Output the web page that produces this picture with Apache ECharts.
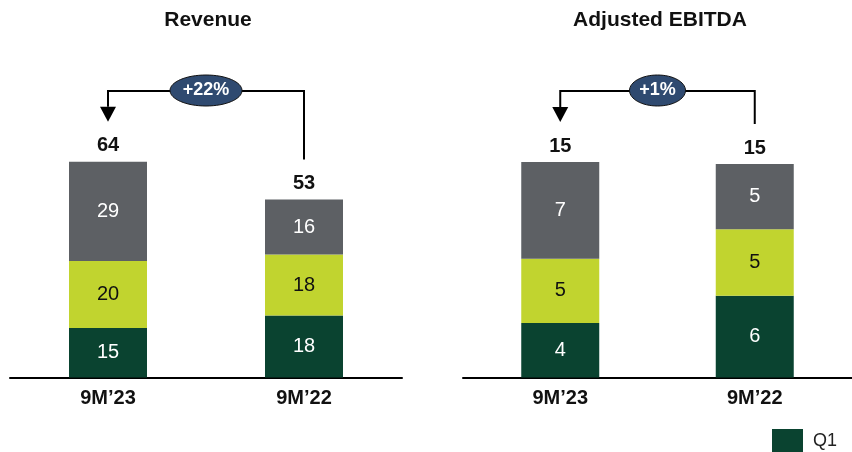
<!DOCTYPE html>
<html>
<head>
<meta charset="utf-8">
<script src="https://cdn.jsdelivr.net/npm/echarts@6/dist/echarts.min.js"></script>
<style>
  html, body { margin: 0; padding: 0; background: #fff; }
  #chart { width: 852px; height: 452px; }
</style>
</head>
<body>
<div id="chart"></div>
<script>
// categories and values (labels are rounded)
const categories = ['9M\u201923', '9M\u201922'];
const titles = ['Revenue', 'Adjusted EBITDA'];
const growthLabels = ['+22%', '+1%'];

const revQ1 = [14.7, 18.4];
const revQ2 = [19.9, 18.1];
const revQ3 = [29.4, 16.3];

const ebQ1 = [3.83, 5.75];
const ebQ2 = [4.52, 4.67];
const ebQ3 = [6.80, 4.59];

const colQ1 = '#0A4330';
const colQ2 = '#C1D42F';
const colQ3 = '#5D6064';
const FONT = '"Liberation Sans", Arial, sans-serif';

let chart = echarts.init(document.getElementById('chart'));

function sumArr(arrs) {
  return categories.map((c, i) => arrs.reduce((s, a) => s + a[i], 0));
}
const revTotal = sumArr([revQ1, revQ2, revQ3]);
const ebTotal = sumArr([ebQ1, ebQ2, ebQ3]);

function segSeries(name, data, color, textColor, idx) {
  return {
    name: name,
    type: 'bar',
    stack: 's' + idx,
    xAxisIndex: idx,
    yAxisIndex: idx,
    barWidth: 78,
    data: data,
    itemStyle: { color: color },
    label: {
      show: true,
      position: 'inside',
      color: textColor,
      fontFamily: FONT,
      fontSize: 20,
      formatter: p => Math.round(p.value)
    },
    emphasis: { disabled: true }
  };
}

function totalSeries(totals, idx) {
  return {
    name: 'total' + idx,
    type: 'bar',
    stack: 's' + idx,
    xAxisIndex: idx,
    yAxisIndex: idx,
    barWidth: 78,
    data: totals.map(() => 0),
    itemStyle: { color: 'transparent' },
    label: {
      show: true,
      position: 'top',
      distance: 6,
      color: '#111',
      fontFamily: FONT,
      fontSize: 20,
      fontWeight: 'bold',
      formatter: p => Math.round(totals[p.dataIndex])
    },
    emphasis: { disabled: true }
  };
}

function xAx(idx) {
  return {
    type: 'category',
    gridIndex: idx,
    data: categories,
    axisLine: { lineStyle: { color: '#000', width: 2 } },
    axisTick: { show: false },
    axisLabel: {
      margin: 11,
      color: '#111',
      fontFamily: FONT,
      fontSize: 20,
      fontWeight: 'bold'
    }
  };
}

function yAx(idx, max) {
  return { type: 'value', gridIndex: idx, min: 0, max: max, show: false, splitLine: { show: false } };
}

const titleStyle = { fontFamily: FONT, fontSize: 21, fontWeight: 'bold', color: '#111' };

chart.setOption({
  animation: false,
  title: [
    { text: titles[0], left: 208, top: 10, textAlign: 'center', padding: 0, textStyle: titleStyle },
    { text: titles[1], left: 660, top: 10, textAlign: 'center', padding: 0, textStyle: titleStyle }
  ],
  legend: {
    data: ['Q1'],
    left: 772,
    top: 429,
    padding: 0,
    icon: 'rect',
    itemWidth: 31,
    itemHeight: 24,
    selectedMode: false,
    textStyle: { fontFamily: FONT, fontSize: 18, color: '#222', padding: [0, 0, 0, 5] }
  },
  grid: [
    { left: 10, width: 392, top: 40.5, bottom: 74.5 },
    { left: 463, width: 392, top: 40.5, bottom: 74.5 }
  ],
  xAxis: [xAx(0), xAx(1)],
  yAxis: [yAx(0, 100), yAx(1, 23.7)],
  series: [
    segSeries('Q1', revQ1, colQ1, '#fff', 0),
    segSeries('Q2', revQ2, colQ2, '#111', 0),
    segSeries('Q3', revQ3, colQ3, '#fff', 0),
    totalSeries(revTotal, 0),
    segSeries('Q1', ebQ1, colQ1, '#fff', 1),
    segSeries('Q2', ebQ2, colQ2, '#111', 1),
    segSeries('Q3', ebQ3, colQ3, '#fff', 1),
    totalSeries(ebTotal, 1)
  ]
});

// growth arrows, placed from the axis scales
function arrow(idx, totals, rx, text) {
  const pL = chart.convertToPixel({ xAxisIndex: idx, yAxisIndex: idx }, [0, totals[0]]);
  const pR = chart.convertToPixel({ xAxisIndex: idx, yAxisIndex: idx }, [1, totals[1]]);
  const yTop = 91;
  const tipY = pL[1] - 40;
  const endY = pR[1] - 40;
  const headH = 15;
  const midX = (pL[0] + pR[0]) / 2;
  const line = { stroke: '#000', lineWidth: 2, fill: null };
  return [
    { type: 'polyline', silent: true,
      shape: { points: [[pR[0], endY], [pR[0], yTop], [pL[0], yTop], [pL[0], tipY - headH]] },
      style: line },
    { type: 'polygon', silent: true,
      shape: { points: [[pL[0] - 8, tipY - headH], [pL[0] + 8, tipY - headH], [pL[0], tipY]] },
      style: { fill: '#000' } },
    { type: 'ellipse', silent: true,
      shape: { cx: midX, cy: yTop - 0.5, rx: rx, ry: 15.5 },
      style: { fill: '#2F4A70', stroke: '#111', lineWidth: 1 } },
    { type: 'text', silent: true, x: midX, y: yTop - 0.5,
      style: { text: text, fill: '#fff', font: 'bold 18px ' + FONT, align: 'center', verticalAlign: 'middle' } }
  ];
}

chart.setOption({
  graphic: arrow(0, revTotal, 36, growthLabels[0]).concat(arrow(1, ebTotal, 28, growthLabels[1]))
});
</script>
</body>
</html>
